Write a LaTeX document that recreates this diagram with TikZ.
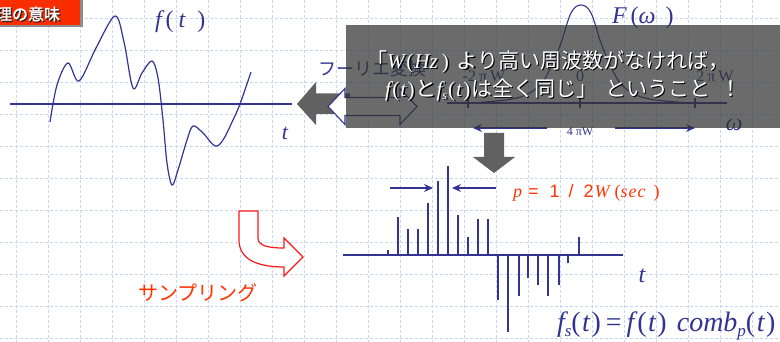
\documentclass[tikz,border=0pt]{standalone}
\usepackage{fontspec}
\usetikzlibrary{arrows.meta}
\newfontfamily\jpfont{Noto Sans CJK JP}
\newfontfamily\jpboldfont{Noto Sans CJK JP}[FakeBold=1.5]
\newfontfamily\tmsfont{Liberation Serif}
\newfontfamily\arlfont{Liberation Sans}
\newcommand{\tmi}[1]{{\tmsfont\itshape #1}}
\newcommand{\tmu}[1]{{\tmsfont\upshape #1}}
\definecolor{navy}{RGB}{51,51,145}
\definecolor{redtxt}{RGB}{255,51,0}
\definecolor{arrowred}{RGB}{250,25,25}
\definecolor{gridblue}{RGB}{200,214,245}
\definecolor{labelred}{RGB}{250,45,0}
\newcommand{\lineone}{\jpfont 「\tmi{W}\hspace{2pt}\tmu{(}\hspace{1pt}\tmi{Hz}\hspace{4pt}\tmu{)}\hspace{8pt}より高い周波数がなければ，}
\newcommand{\linetwo}{\jpfont \tmi{f}\hspace{1.5pt}\tmu{(}\hspace{1pt}\tmi{t}\hspace{1.5pt}\tmu{)}\hspace{1pt}と\tmi{f}\raisebox{-3pt}{\fontsize{12}{12}\selectfont\tmi{s}}\hspace{1pt}\tmu{(}\hspace{1pt}\tmi{t}\hspace{1.5pt}\tmu{)}\hspace{1pt}は全く同じ」\hspace{8pt}ということ\hspace{10pt}！}
\begin{document}
\begin{tikzpicture}[x=1pt,y=-1pt,
  gridline/.style={gridblue, line width=0.6pt, dash pattern=on 3pt off 2pt},
  navyline/.style={navy, line width=1.1pt},
  stem/.style={navy, line width=1.2pt},
  blockgray/.style={fill=black!62},
  txt/.style={inner sep=0pt, outer sep=0pt},
  dimarrow/.style={navy, line width=1.1pt, -{Stealth[length=9pt,width=8pt]}},
]
\useasboundingbox (0,0) rectangle (780,342);
\fill[white] (0,0) rectangle (780,342);
\foreach \x in {16,48,...,752} \draw[gridline] (\x,0) -- (\x,342);
\foreach \y in {18,50,...,338} \draw[gridline] (0,\y) -- (780,\y);

% left plot
\coordinate (la0) at (10,104); \coordinate (la1) at (292,104);
\draw[navyline] (la0) -- (la1);
\draw[navyline, line width=1.2pt] plot[smooth, tension=0.55] coordinates {(50,122) (57,85) (68,63) (79,81) (96,48) (115,16) (124,42) (133,88) (142,73) (152,61) (158,78) (163,120) (167,163) (172,185) (178,170) (187,140) (193,126) (203,133) (215,146) (223,140) (233,120) (240,104) (251,72)};
\node[txt, anchor=base west, text=navy] (ft) at (155,28) {\fontsize{24}{28}\selectfont\tmi{f}\hspace{4pt}\tmu{(}\hspace{5pt}\tmi{t}\hspace{12pt}\tmu{)}};
\node[txt, anchor=base, text=navy] (tl) at (285,140) {\fontsize{22}{26}\selectfont\tmi{t}};

% red label
\fill[black!45] (-5,-5) rectangle (82.5,27.5);
\fill[labelred] (-5,-5) rectangle (80,25);
\node[txt, anchor=base west, text=black!85] (lbls) at (-2.8,21.2) {\fontsize{16}{18}\selectfont\jpboldfont 理の意味};
\node[txt, anchor=base west, text=white] (lbl) at (-4,20) {\fontsize{16}{18}\selectfont\jpboldfont 理の意味};

% F plot
\coordinate (fa0) at (447,103); \coordinate (fa1) at (727,103);
\draw[navyline] (fa0) -- (fa1);
\foreach \x in {468,580,695} \draw[navyline] (\x,98) -- (\x,108);
\draw[navyline] plot[smooth, tension=0.6] coordinates {(471,103) (506,100) (526,95) (541,84) (551,67) (561,43) (571,13) (581,5) (591,13) (601,43) (611,67) (621,84) (636,95) (656,100) (691,103)};
\node[txt, anchor=base, text=navy] (m2w) at (484,82) {\fontsize{16}{18}\selectfont\tmu{-2\hspace{3pt}π\hspace{3pt}W}};
\node[txt, anchor=base, text=navy] (z0) at (580,82) {\fontsize{16}{18}\selectfont\tmu{0}};
\node[txt, anchor=base, text=navy] (p2w) at (715,82) {\fontsize{16}{18}\selectfont\tmu{2\hspace{3pt}π\hspace{3pt}W}};
\node[txt, anchor=base west, text=navy] (Fw) at (612,24) {\fontsize{24}{28}\selectfont\tmi{F}\hspace{4pt}\tmu{(}\tmi{ω}\hspace{10pt}\tmu{)}};
\node[txt, anchor=base, text=navy] (wl) at (734,131) {\fontsize{24}{28}\selectfont\tmi{ω}};
\node[txt, anchor=base, text=navy] (w4) at (580,136) {\fontsize{12}{14}\selectfont\tmu{4\hspace{3pt}πW}};
\coordinate (al) at (473,128); \coordinate (alm) at (547,128);
\coordinate (arm) at (615,128); \coordinate (ar) at (695,128);
\draw[dimarrow] (alm) -- (al);
\draw[dimarrow] (arm) -- (ar);

% gray left arrow
\fill[blockgray] (297,104) -- (316,82) -- (316,93.5) -- (350,93.5) -- (350,114) -- (316,114) -- (316,125) -- cycle;
% white double arrow
\draw[navy, line width=1.1pt, fill=white] (328,106.5) -- (345,88.5) -- (345,97.5) -- (400,97.5) -- (400,88.5) -- (417,106.5) -- (400,124.5) -- (400,115.5) -- (345,115.5) -- (345,124.5) -- cycle;
\node[txt, anchor=base west, text=navy] (fourier) at (318,76) {\fontsize{18}{20}\selectfont\jpfont フーリエ変換};

% translucent box
\fill[black!80, fill opacity=0.72] (346,25) rectangle (781,128);
\node[txt, anchor=base west, text=black] (l1s) at (367.5,70) {\fontsize{21}{24}\selectfont\lineone};
\node[txt, anchor=base west, text=white] (l1) at (366,68.5) {\fontsize{21}{24}\selectfont\lineone};
\node[txt, anchor=base west, text=black] (l2s) at (386.5,98) {\fontsize{21}{24}\selectfont\linetwo};
\node[txt, anchor=base west, text=white] (l2) at (385,96.5) {\fontsize{21}{24}\selectfont\linetwo};

% down arrow
\fill[blockgray] (484,133) -- (504,133) -- (504,157) -- (515,157) -- (494,173) -- (473,157) -- (484,157) -- cycle;

% sampled plot
\coordinate (sa0) at (343,255); \coordinate (sa1) at (623,255);
\draw[navyline] (sa0) -- (sa1);
\foreach \x/\y in {388/250,398/217,408/229,418/229,428/203,438/181,448/166,458/215,468/237,478/219,488/219,498/300,508/332,519/296,528/278,538/285,548/296,559/285,568/263,579/237}
  \draw[stem] (\x,255) -- (\x,\y);
\coordinate (d0) at (390,188); \coordinate (d1) at (433,188);
\coordinate (d2) at (496,188); \coordinate (d3) at (452,188);
\draw[dimarrow] (d0) -- (d1);
\draw[dimarrow] (d2) -- (d3);
\node[txt, anchor=base west, text=redtxt] (plab) at (513,198) {\fontsize{18}{20}\selectfont\tmi{p}\hspace{6pt}\arlfont =\hspace{11pt}1\hspace{9pt}/\hspace{10pt}2\hspace{1pt}\tmi{W}\hspace{5pt}\tmu{(}\tmi{s\hspace{1pt}e\hspace{1pt}c}\hspace{8pt}\tmu{)}};
\node[txt, anchor=base, text=navy] (tb) at (642,283) {\fontsize{24}{28}\selectfont\tmi{t}};
\node[txt, anchor=base west, text=navy] (form) at (557,331) {\fontsize{28}{30}\selectfont\tmi{f}\raisebox{-5pt}{\fontsize{17}{17}\selectfont\tmi{s}}\tmu{(}\hspace{1.5pt}\tmi{t}\hspace{1.5pt}\tmu{)}\hspace{5pt}\tmu{=}\hspace{5pt}\tmi{f}\hspace{3pt}\tmu{(}\hspace{1.5pt}\tmi{t}\hspace{1.5pt}\tmu{)}\hspace{10pt}\tmi{comb}\raisebox{-5pt}{\fontsize{17}{17}\selectfont\tmi{p}}\tmu{(}\hspace{1.5pt}\tmi{t}\hspace{1.5pt}\tmu{)}};

% red U arrow
\draw[arrowred, line width=1.2pt, fill=white] (239,211) -- (258,211) -- (258,238) .. controls (258,245) and (266,248) .. (284,248) -- (284,238) -- (303,257) -- (284,276) -- (284,267) .. controls (255,267) and (239,258) .. (239,240) -- cycle;
\node[txt, anchor=base, text=redtxt] (samp) at (198,301) {\fontsize{20}{24}\selectfont\jpfont サンプリング};
\end{tikzpicture}
\end{document}
